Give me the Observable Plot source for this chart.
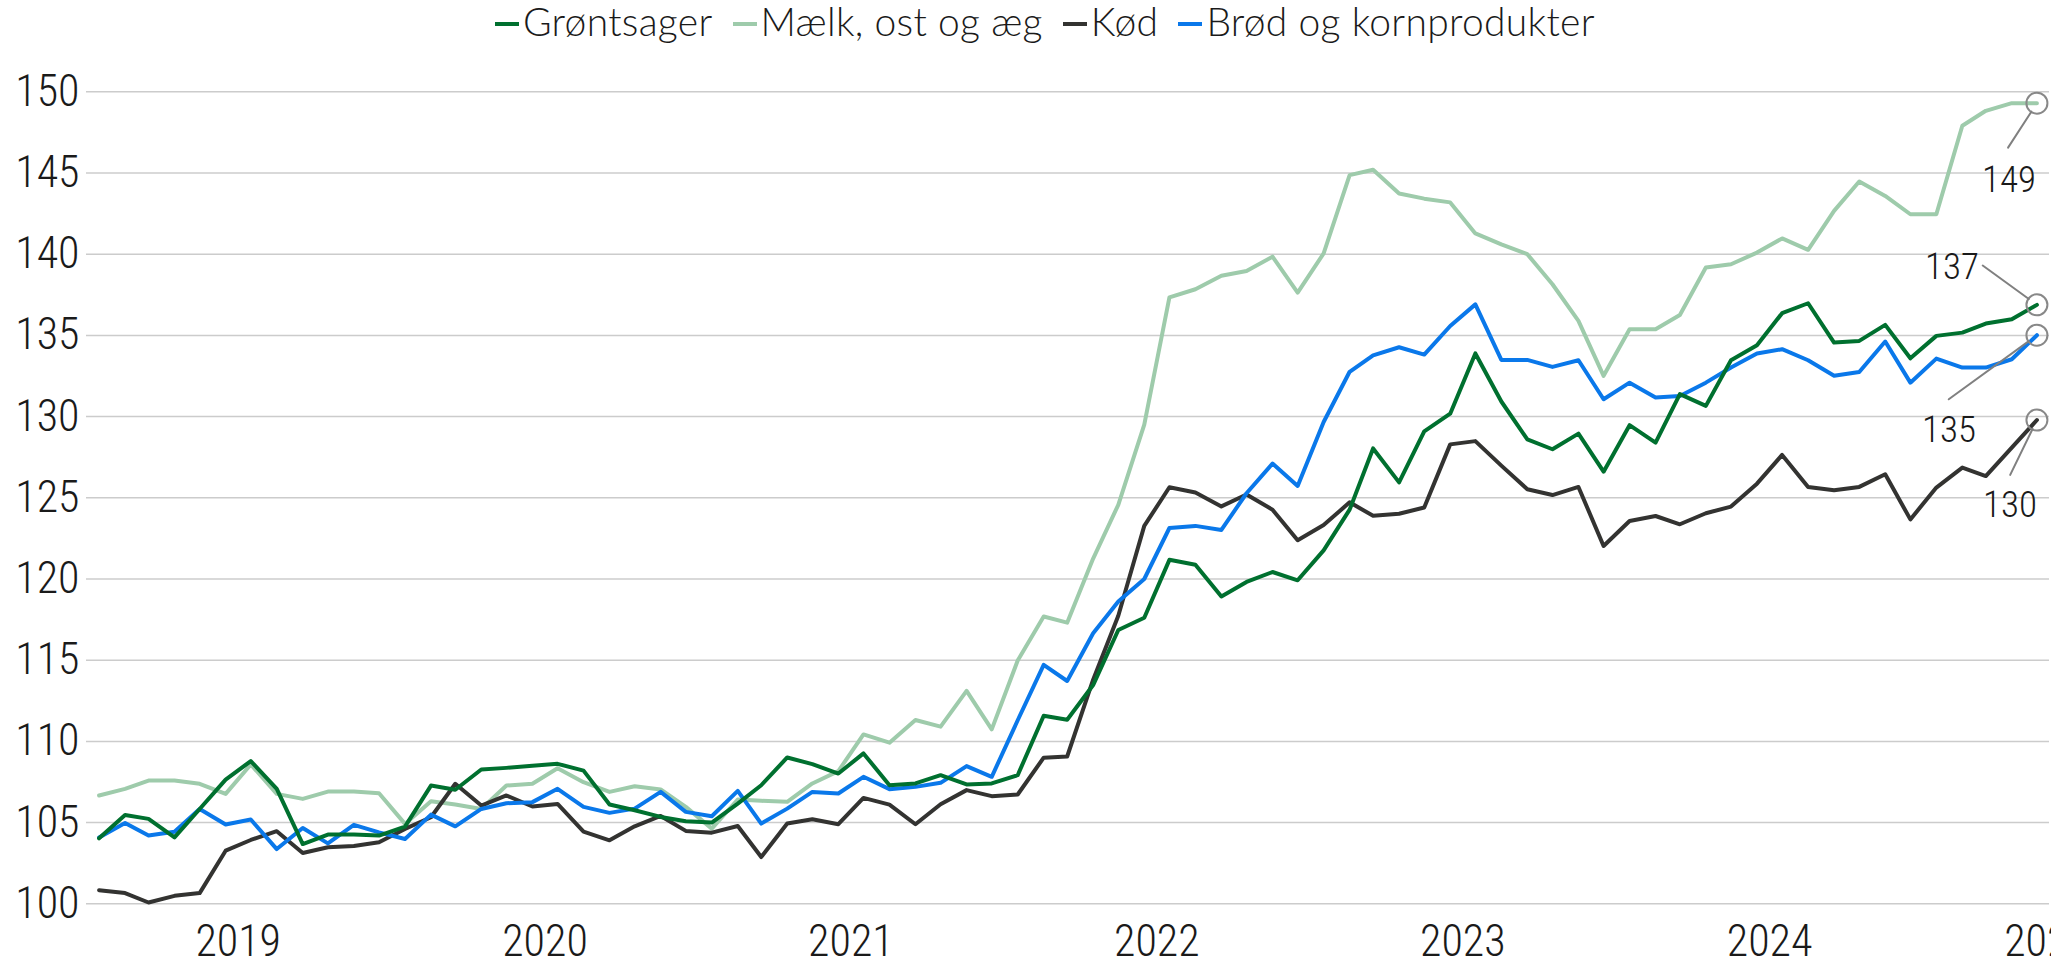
<!DOCTYPE html>
<html><head><meta charset="utf-8">
<script src="https://cdn.jsdelivr.net/npm/d3@7"></script>
<script src="https://cdn.jsdelivr.net/npm/@observablehq/plot@0.6"></script>
<style>
html,body{margin:0;padding:0;background:#fff;overflow:hidden;width:2051px;height:970px}
#legend{height:62px;box-sizing:border-box;padding:2px 0 0 495px;display:flex;align-items:flex-start;font-family:Lato,"Liberation Sans",sans-serif;font-weight:300;font-size:39px;letter-spacing:0.3px;line-height:38px;color:#1a1a1a;white-space:nowrap}
.item{display:flex;align-items:center;margin-right:20px;height:38px}
.sw{width:24px;height:4px;margin-right:4px;position:relative;top:3px}
#chart svg{display:block}
#chart svg text{font-family:"Liberation Sans Narrow","Arial Narrow","Roboto Condensed","Noto Sans","Open Sans",sans-serif;font-stretch:condensed;font-weight:300}
</style></head><body>
<div id="legend"></div>
<div id="chart"></div>
<script>
// ---- data (monthly Jan 2019 – May 2025) ----
const seriesNames = ["Grøntsager", "Mælk, ost og æg", "Kød", "Brød og kornprodukter"];
const seriesColors = ["#00702f", "#9ecbab", "#333331", "#0a78ea"];

const groentsager = [104.03,105.47,105.23,104.09,105.84,107.65,108.79,107.08,103.68,104.26,104.26,104.20,
 104.75,107.28,107.02,108.27,108.37,108.50,108.62,108.20,106.11,105.76,105.35,105.08,
 105.00,106.17,107.30,109.01,108.60,108.02,109.26,107.30,107.41,107.92,107.35,107.41,
 107.92,111.58,111.33,113.47,116.86,117.61,121.18,120.88,118.92,119.82,120.43,119.92,
 121.76,124.27,128.04,125.95,129.09,130.18,133.89,130.93,128.60,127.99,128.95,126.61,
 129.47,128.40,131.38,130.66,133.47,134.39,136.37,136.98,134.56,134.66,135.65,133.59,
 134.97,135.17,135.73,136.00,136.88];
const maelk = [106.67,107.08,107.59,107.59,107.39,106.77,108.58,106.77,106.46,106.91,106.91,106.81,
 104.92,106.32,106.11,105.84,107.28,107.39,108.35,107.49,106.89,107.24,107.04,105.97,
 104.63,106.42,106.34,106.28,107.41,108.17,110.43,109.92,111.32,110.91,113.11,110.74,
 114.98,117.69,117.31,121.26,124.57,129.50,137.34,137.84,138.67,138.97,139.85,137.64,
 140.05,144.87,145.20,143.74,143.42,143.19,141.28,140.60,140.00,138.15,135.89,132.51,
 135.38,135.38,136.26,139.18,139.38,140.10,140.97,140.27,142.67,144.48,143.59,142.46,
 142.46,147.91,148.83,149.30,149.30];
const koed = [100.84,100.66,100.08,100.49,100.66,103.27,103.93,104.47,103.13,103.48,103.56,103.79,
 104.61,105.33,107.39,106.05,106.67,105.99,106.15,104.45,103.91,104.77,105.41,104.49,
 104.38,104.79,102.88,104.94,105.21,104.90,106.52,106.11,104.90,106.13,107.00,106.63,
 106.73,109.00,109.07,113.80,117.74,123.27,125.65,125.33,124.47,125.20,124.27,122.39,
 123.32,124.72,123.89,124.02,124.40,128.29,128.49,126.98,125.53,125.17,125.67,122.03,
 123.57,123.88,123.37,124.05,124.46,125.87,127.64,125.67,125.46,125.67,126.45,123.67,
 125.63,126.86,126.34,128.09,129.79];
const broed = [104.09,104.98,104.20,104.44,105.84,104.88,105.19,103.37,104.67,103.72,104.86,104.40,
 103.99,105.49,104.77,105.84,106.19,106.26,107.08,105.97,105.60,105.86,106.89,105.66,
 105.39,106.95,104.94,105.86,106.89,106.79,107.82,107.06,107.20,107.45,108.48,107.82,
 111.30,114.71,113.72,116.66,118.62,120.00,123.14,123.27,123.02,125.28,127.11,125.73,
 129.67,132.76,133.77,134.27,133.82,135.58,136.91,133.49,133.49,133.06,133.47,131.07,
 132.09,131.17,131.27,132.09,133.02,133.88,134.15,133.47,132.51,132.75,134.62,132.09,
 133.57,133.02,133.02,133.53,135.01];

const yTicks = [100,105,110,115,120,125,130,135,140,145,150];
const xTickDates = ["2019-06-16","2020-06-16","2021-06-16","2022-06-16","2023-06-16","2024-06-16","2025-05-13"].map(s => new Date(s));

// ---- build table ----
const months = d3.utcMonth.range(new Date("2019-01-01"), new Date("2025-06-01"));
const valuesBySeries = {
  "Grøntsager": groentsager,
  "Mælk, ost og æg": maelk,
  "Kød": koed,
  "Brød og kornprodukter": broed
};
const drawOrder = ["Mælk, ost og æg", "Kød", "Brød og kornprodukter", "Grøntsager"];
const rows = [];
for (const name of drawOrder) valuesBySeries[name].forEach((v, i) => rows.push({date: months[i], series: name, value: v}));
const lastRows = seriesNames.map(name => ({date: months[months.length - 1], series: name, value: valuesBySeries[name][months.length - 1]}));

// callout layout (pixel offsets, styles only)
const callouts = {
  "Mælk, ost og æg": {dx: -28, dy: 77, len: 53, angle: -147},
  "Grøntsager": {dx: -85, dy: -38, len: 67, angle: -54},
  "Brød og kornprodukter": {dx: -88, dy: 95, len: 109, angle: -126},
  "Kød": {dx: -27, dy: 85, len: 61, angle: -154}
};
const leaderShape = {draw(context, l, r) { context.moveTo(0, -r); context.lineTo(0, -l); }};

// ---- legend ----
const legend = document.getElementById("legend");
seriesNames.forEach((name, i) => {
  const item = document.createElement("div"); item.className = "item";
  const sw = document.createElement("span"); sw.className = "sw"; sw.style.background = seriesColors[i];
  const tx = document.createElement("span"); tx.textContent = name;
  item.append(sw, tx); legend.append(item);
});

// ---- chart ----
const calloutMarks = [];
for (const d of lastRows) {
  const c = callouts[d.series];
  calloutMarks.push(
    Plot.vector([d], {x: "date", y: "value", length: c.len, rotate: c.angle, anchor: "start", shape: leaderShape, r: 10, stroke: "#808080", strokeWidth: 2}),
    Plot.text([d], {x: "date", y: "value", text: v => String(Math.round(v.value)), dx: c.dx, dy: c.dy, fontSize: 37, fill: "#1a1a1a"})
  );
}

const chart = Plot.plot({
  width: 2051,
  height: 908,
  marginLeft: 86,
  marginRight: 2,
  marginTop: 29.3,
  marginBottom: 66.7,
  style: {fontSize: "44px", color: "#1a1a1a", background: "#fff", overflow: "hidden"},
  x: {type: "utc", domain: [d3.utcDay.offset(months[0], -15), d3.utcDay.offset(months[months.length - 1], 15)], label: null},
  y: {domain: [100, 150], label: null},
  color: {domain: seriesNames, range: seriesColors},
  marks: [
    Plot.gridY(yTicks, {stroke: "#cccccc", strokeOpacity: 1, strokeWidth: 1.5}),
    Plot.axisY(yTicks, {tickSize: 0, tickPadding: 7, fontSize: 44, label: null, tickFormat: d => String(d)}),
    Plot.axisX(xTickDates, {tickSize: 0, tickPadding: 21, fontSize: 44, label: null, tickFormat: d => String(d.getUTCFullYear())}),
    Plot.line(rows, {x: "date", y: "value", z: "series", stroke: "series", strokeWidth: 4}),
    Plot.dot(lastRows, {x: "date", y: "value", r: 10.5, stroke: "#888888", strokeWidth: 2, fill: "none"}),
    ...calloutMarks
  ]
});
document.getElementById("chart").append(chart);
</script>
</body></html>
